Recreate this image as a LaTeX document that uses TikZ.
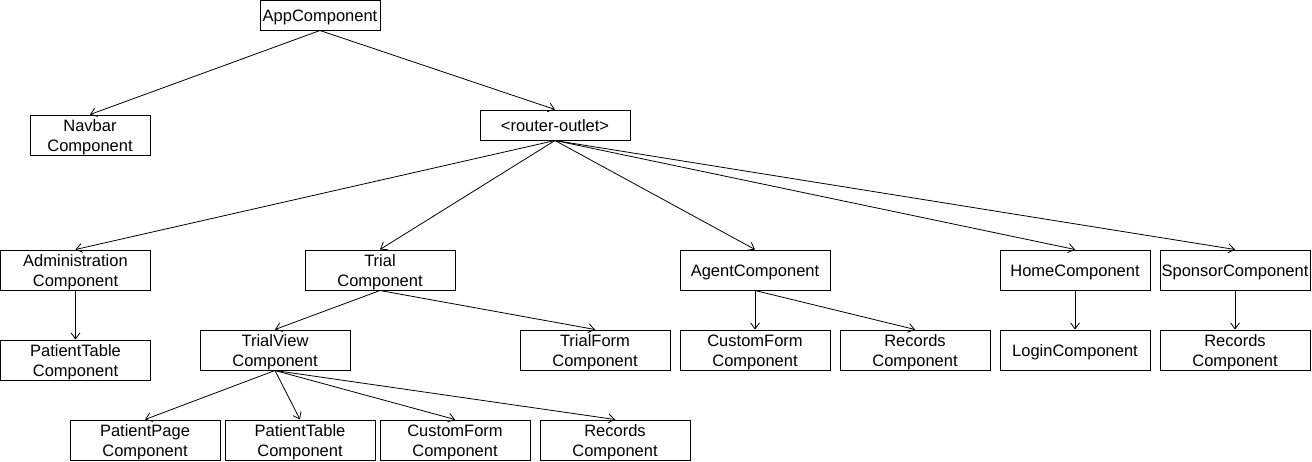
\documentclass[tikz,border=0pt]{standalone}
\usepackage{fontspec}
\setmainfont{Liberation Sans}
\usetikzlibrary{arrows.meta}
\newcommand{\boxtext}[1]{\raisebox{-2pt}[\height][\depth]{\begin{tabular}{@{}c@{}}#1\end{tabular}}}
\begin{document}
\begin{tikzpicture}[x=1pt,y=-1pt,
  box/.style={draw=black, line width=1pt, fill=white, inner sep=0pt,
    minimum width=150pt, minimum height=40pt,
    font=\fontsize{16.5}{20}\selectfont},
  link/.style={draw=black, line width=0.8pt, -{Straight Barb[length=6pt,width=9pt,line width=0.8pt]}}]
\useasboundingbox (0,0) rectangle (1312,461);
\fill[white] (0,0) rectangle (1312,461);
% level 0
\node[box, minimum width=120pt, minimum height=30pt] (app) at (320,15) {\boxtext{AppComponent}};
% level 1
\node[box, minimum width=120pt] (nav) at (90,135) {\boxtext{Navbar\\Component}};
\node[box, minimum height=30pt] (router) at (555,125) {\boxtext{<router-outlet>}};
% level 2
\node[box] (admin) at (75.5,270) {\boxtext{Administration\\Component}};
\node[box] (trial) at (380,270) {\boxtext{Trial\\Component}};
\node[box] (agent) at (755,270) {\boxtext{AgentComponent}};
\node[box] (home) at (1075,270) {\boxtext{HomeComponent}};
\node[box] (sponsor) at (1235,270) {\boxtext{SponsorComponent}};
% level 3
\node[box] (ptable1) at (75.5,360) {\boxtext{PatientTable\\Component}};
\node[box] (tview) at (275,350) {\boxtext{TrialView\\Component}};
\node[box] (tform) at (595,350) {\boxtext{TrialForm\\Component}};
\node[box] (cform1) at (755,350) {\boxtext{CustomForm\\Component}};
\node[box] (rec1) at (915,350) {\boxtext{Records\\Component}};
\node[box] (login) at (1075,350) {\boxtext{LoginComponent}};
\node[box] (rec2) at (1235,350) {\boxtext{Records\\Component}};
% level 4
\node[box] (ppage) at (145,440) {\boxtext{PatientPage\\Component}};
\node[box] (ptable2) at (300,440) {\boxtext{PatientTable\\Component}};
\node[box] (cform2) at (455,440) {\boxtext{CustomForm\\Component}};
\node[box] (rec3) at (615,440) {\boxtext{Records\\Component}};
% connectors
\draw[link] (app.south) -- (nav.north);
\draw[link] (app.south) -- (router.north);
\foreach \c in {admin,trial,agent,home,sponsor}
  \draw[link] (router.south) -- (\c.north);
\draw[link] (admin.south) -- (ptable1.north);
\draw[link] (trial.south) -- (tview.north);
\draw[link] (trial.south) -- (tform.north);
\draw[link] (agent.south) -- (cform1.north);
\draw[link] (agent.south) -- (rec1.north);
\draw[link] (home.south) -- (login.north);
\draw[link] (sponsor.south) -- (rec2.north);
\foreach \c in {ppage,ptable2,cform2,rec3}
  \draw[link] (tview.south) -- (\c.north);
\end{tikzpicture}
\end{document}
